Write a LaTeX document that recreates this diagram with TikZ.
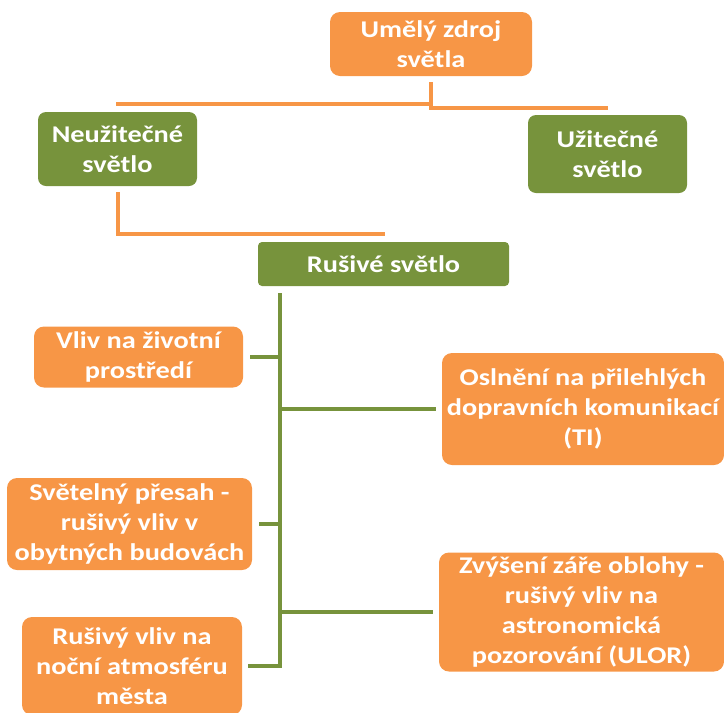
\documentclass[tikz,border=0pt]{standalone}
\usepackage{fontspec}
\setmainfont{Carlito}[FakeStretch=1.18]
\usetikzlibrary{positioning, calc}

\definecolor{oranzova}{HTML}{F79646}
\definecolor{zelena}{HTML}{77933C}

\begin{document}
\begin{tikzpicture}[
            x=1pt, y=-1pt,
            box/.style={rectangle, fill=oranzova, text=white, align=center, rounded corners=10pt, inner sep=0pt,
                        font=\fontsize{24}{30}\selectfont\bfseries},
            gbox/.style={box, fill=zelena, rounded corners=8pt},
            oline/.style={draw=oranzova, line width=4pt},
            gline/.style={draw=zelena, line width=4pt}
        ]
    \useasboundingbox (0,0) rectangle (724,713);

    \node[box, minimum width=202pt, minimum height=64pt] (zdroj) at (431,44) {Umělý zdroj\\světla};
    \node[gbox, minimum width=159pt, minimum height=74pt] (neuz) at (117.5,149) {Neužitečné\\světlo};
    \node[gbox, minimum width=159pt, minimum height=78pt] (uz) at (607.5,154) {Užitečné\\světlo};
    \node[gbox, rounded corners=4pt, minimum width=251pt, minimum height=44pt] (rusive) at (383.5,264) {Rušivé světlo};

    \node[box, minimum width=209pt, minimum height=61pt] (vliv) at (138.5,357) {Vliv na životní\\prostředí};
    \node[box, minimum width=282pt, minimum height=112pt] (osl) at (583,409) {Oslnění na přilehlých\\dopravních komunikací\\(TI)};
    \node[box, minimum width=245pt, minimum height=92pt] (presah) at (129.5,524) {Světelný přesah -\\rušivý vliv v\\obytných budovách};
    \node[box, minimum width=285pt, minimum height=119pt] (zvys) at (581.5,612) {Zvýšení záře oblohy -\\rušivý vliv na\\astronomická\\pozorování (ULOR)};
    \node[box, minimum width=220pt, minimum height=98pt] (nocni) at (132,666) {Rušivý vliv na\\noční atmosféru\\města};

    % horni vetveni
    \coordinate (levykonec) at (116,104);
    \coordinate (pravykonec) at (608,108);
    \draw[oline] ([yshift=-6pt]zdroj.south) |- (levykonec);
    \draw[oline] ([yshift=-6pt]zdroj.south) |- (pravykonec);

    \coordinate (rkonec) at (385,234);
    \draw[oline] ([yshift=-6pt]neuz.south) |- (rkonec);

    % kmen rusiveho svetla
    \coordinate (kmen) at ([xshift=22pt, yshift=-7pt]rusive.south west);
    \draw[gline] (kmen) |- ([xshift=6pt]nocni.east);
    \draw[gline] ([xshift=7pt]vliv.east) -- (vliv.east -| kmen);
    \draw[gline] ([xshift=7pt]presah.east) -- (presah.east -| kmen);
    \draw[gline] (osl.west -| kmen) -- ([xshift=-6pt]osl.west);
    \draw[gline] (zvys.west -| kmen) -- ([xshift=-6pt]zvys.west);

\end{tikzpicture}
\end{document}
